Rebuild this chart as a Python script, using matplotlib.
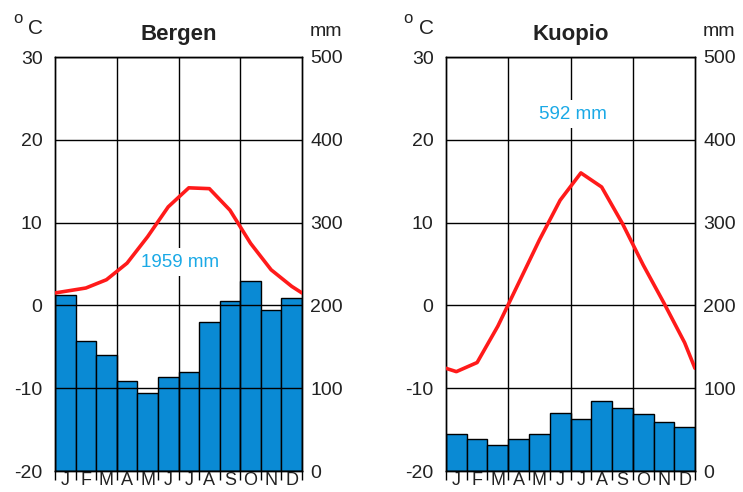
import matplotlib.pyplot as plt

plt.rcParams['font.family'] = ['Liberation Sans', 'DejaVu Sans']
plt.rcParams['axes.unicode_minus'] = False

months = ['J', 'F', 'M', 'A', 'M', 'J', 'J', 'A', 'S', 'O', 'N', 'D']

# Bergen: precipitation (mm) and mean temperature (°C) per month
bergen_precip = [213, 157, 140, 109, 94, 113, 120, 180, 205, 230, 195, 209]
bergen_temp = [1.7, 2.1, 3.1, 5.1, 8.3, 11.9, 14.2, 14.1, 11.5, 7.5, 4.3, 2.3]
bergen_temp_edge = 1.5      # value of the curve at the year boundary
bergen_total = '1959 mm'

# Kuopio
kuopio_precip = [45, 39, 32, 39, 45, 70, 63, 84, 76, 69, 59, 53]
kuopio_temp = [-8.0, -6.9, -2.5, 2.7, 7.9, 12.7, 16.0, 14.3, 9.9, 4.9, 0.3, -4.5]
kuopio_temp_edge = -7.6
kuopio_total = '592 mm'

BAR_COLOR = '#0a8ad4'
LINE_COLOR = '#ff1a1a'
TEXT_COLOR = '#1aa9e6'
DARK = '#222222'


def climate_panel(fig, rect, name, precip, temp, temp_edge, total, total_pos):
    """Draws one climate diagram (bars = precipitation, line = temperature)"""
    ax_t = fig.add_axes(rect)
    ax_p = ax_t.twinx()
    ax_t.set_zorder(ax_p.get_zorder() + 1)
    ax_t.patch.set_visible(False)

    # precipitation bars
    ax_p.bar(range(12), precip, width=1, align='edge', color=BAR_COLOR,
             edgecolor='black', linewidth=1)
    ax_p.set_ylim(0, 500)
    ax_p.set_yticks(range(0, 501, 100))
    ax_p.tick_params(axis='y', length=0, pad=6, labelsize=14, labelcolor=DARK)

    # temperature curve, month midpoints plus the year boundary
    xs = [0] + [m + 0.5 for m in range(12)] + [12]
    ys = [temp_edge] + list(temp) + [temp_edge]
    ax_t.plot(xs, ys, color=LINE_COLOR, linewidth=2.6,
              solid_joinstyle='round', solid_capstyle='round', zorder=4)

    ax_t.set_xlim(0, 12)
    ax_t.set_ylim(-20, 30)
    ax_t.set_yticks(range(-20, 31, 10))
    ax_t.yaxis.grid(True, color='black', linewidth=1)
    for xv in (3, 6, 9):
        ax_t.axvline(xv, color='black', linewidth=1, zorder=1)
    ax_t.tick_params(axis='y', length=0, pad=9, labelsize=14, labelcolor=DARK)

    # month boundaries as ticks, letters centred between them
    ax_t.set_xticks(range(13))
    ax_t.set_xticklabels([])
    ax_t.set_xticks([m + 0.5 for m in range(12)], minor=True)
    ax_t.set_xticklabels(months, minor=True)
    ax_t.tick_params(axis='x', which='major', direction='out', length=6.5,
                     width=1, color='black')
    ax_t.tick_params(axis='x', which='minor', length=0, pad=1,
                     labelsize=13, labelcolor=DARK)

    for sp in list(ax_t.spines.values()) + list(ax_p.spines.values()):
        sp.set_linewidth(1)
        sp.set_color('black')

    ax_t.text(total_pos[0], total_pos[1], total, color=TEXT_COLOR, fontsize=13.5,
              ha='center', va='center', zorder=3,
              bbox=dict(facecolor='white', edgecolor='none', pad=4))

    ax_t.set_title(name, fontsize=16, fontweight='bold', color=DARK, pad=12)
    # degree sign drawn as a small raised "o" next to the "C"
    ax_t.text(-0.17, 1.075, 'o', transform=ax_t.transAxes,
              fontsize=12, color=DARK, ha='left', va='bottom')
    ax_t.text(-0.11, 1.045, 'C', transform=ax_t.transAxes,
              fontsize=15, color=DARK, ha='left', va='bottom')
    ax_p.text(1.03, 1.04, 'mm', transform=ax_p.transAxes,
              fontsize=14, color=DARK, ha='left', va='bottom')
    return ax_t, ax_p


fig = plt.figure(figsize=(7.43, 4.92), dpi=100)
climate_panel(fig, [55 / 743, 21 / 492, 247 / 743, 414 / 492], 'Bergen',
              bergen_precip, bergen_temp, bergen_temp_edge, bergen_total, (6.1, 5.2))
climate_panel(fig, [446 / 743, 21 / 492, 249 / 743, 414 / 492], 'Kuopio',
              kuopio_precip, kuopio_temp, kuopio_temp_edge, kuopio_total, (6.1, 23.1))

fig.savefig('out.png', dpi=100)
